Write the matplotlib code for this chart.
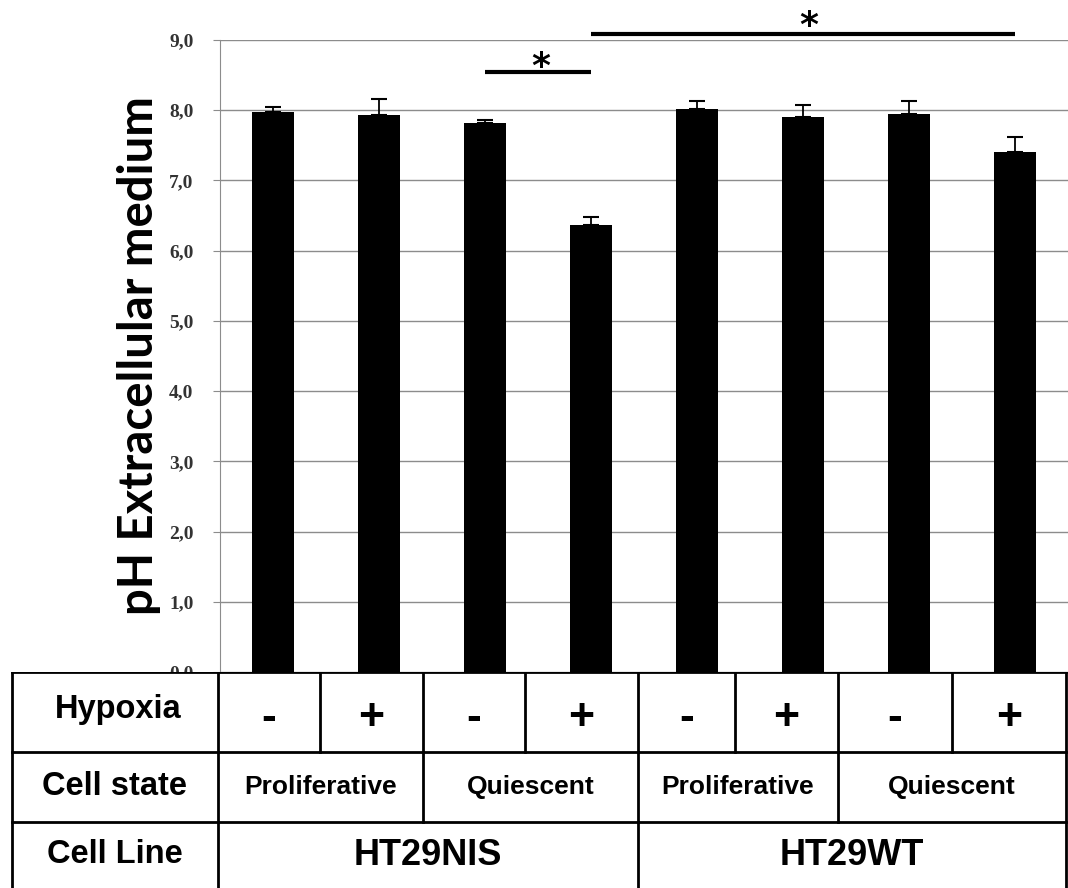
import matplotlib
matplotlib.use("Agg")
import matplotlib.pyplot as plt
import numpy as np

# data
ph_values = [7.98, 7.93, 7.82, 6.37, 8.02, 7.91, 7.95, 7.40]
ph_errors = [0.07, 0.23, 0.04, 0.11, 0.11, 0.17, 0.18, 0.22]
hypoxia = ['-', '+', '-', '+', '-', '+', '-', '+']
cell_state = ['Proliferative', 'Quiescent', 'Proliferative', 'Quiescent']
cell_line = ['HT29NIS', 'HT29WT']
yticks = np.arange(0, 9.5, 1.0)

# significance brackets: x start, x end, bar height, star x, star height
sig_start = [2, 3]
sig_end = [3, 7]
sig_height = [8.55, 9.09]
star_x = [2.53, 5.05]
star_y = [8.61, 9.20]

W, H = 1068, 888
fig = plt.figure(figsize=(W / 100, H / 100), dpi=100)

# main bar axes
ax = fig.add_axes([220 / W, (H - 672) / H, (W - 220) / W, (672 - 40) / H])
x = np.arange(len(ph_values))
ax.bar(x, ph_values, width=0.4, color='black', zorder=3)
ax.errorbar(x, ph_values, yerr=[np.zeros(len(ph_errors)), ph_errors],
            fmt='none', ecolor='black', elinewidth=1.3, capsize=6,
            capthick=1.5, zorder=4)

ax.set_xlim(-0.5, len(ph_values) - 0.5)
ax.set_ylim(0, 9)
ax.set_yticks(yticks)
ax.set_yticklabels([f'{v:.1f}'.replace('.', ',') for v in yticks],
                   family='Liberation Serif', fontweight='bold',
                   fontsize=14, color='#333333')
ax.set_xticks([])
ax.yaxis.grid(True, color='#8c8c8c', linewidth=1.0, zorder=0)
ax.tick_params(axis='y', length=5, color='#8c8c8c', pad=14)
for s in ['top', 'right', 'bottom']:
    ax.spines[s].set_visible(False)
ax.spines['left'].set_color('#8c8c8c')
ax.set_ylabel('pH Extracellular medium', family='Lato', fontweight='bold',
              fontsize=34, labelpad=6)

for x0, x1, h in zip(sig_start, sig_end, sig_height):
    ax.plot([x0, x1], [h, h], color='black', linewidth=3, clip_on=False,
            solid_capstyle='butt', zorder=5)
for sx, sy in zip(star_x, star_y):
    ax.text(sx, sy, '*', ha='center', va='center', fontsize=26,
            fontweight='bold', family='DejaVu Sans', clip_on=False)

# table below the chart (pixel layout)
tab = fig.add_axes([0, 0, 1, (H - 672) / H])
tab.set_xlim(0, W)
tab.set_ylim(H, 672)
tab.axis('off')
tab.add_patch(plt.Rectangle((0, 672), W, H - 672, color='white', zorder=0))

col_edges = [218, 320, 423, 525, 638, 735, 838, 952, 1066]
row_edges = [672, 752, 822, 895]
left_edge = 12
lw = 2.0

for y in row_edges:
    tab.plot([left_edge, col_edges[-1]], [y, y], color='black', lw=lw)
tab.plot([left_edge, left_edge], [672, 895], color='black', lw=lw)
tab.plot([col_edges[0], col_edges[0]], [672, 895], color='black', lw=lw)
tab.plot([col_edges[-1], col_edges[-1]], [672, 895], color='black', lw=lw)
for xe in col_edges[1:-1]:
    tab.plot([xe, xe], [row_edges[0], row_edges[1]], color='black', lw=lw)
for xe in col_edges[2:-1:2]:
    tab.plot([xe, xe], [row_edges[1], row_edges[2]], color='black', lw=lw)
tab.plot([col_edges[4], col_edges[4]], [row_edges[2], row_edges[3]],
         color='black', lw=lw)

font = dict(family='Liberation Sans', fontweight='bold', ha='center',
            va='center', color='black')
hx = (left_edge + col_edges[0]) / 2
tab.text(hx + 3, 709, 'Hypoxia', fontsize=23.5, **font)
tab.text(hx, 786, 'Cell state', fontsize=23.5, **font)
tab.text(hx, 854, 'Cell Line', fontsize=23.5, **font)

for i, s in enumerate(hypoxia):
    cx = (col_edges[i] + col_edges[i + 1]) / 2
    tab.text(cx, 718, s, fontsize=32, **font)
for i, s in enumerate(cell_state):
    cx = (col_edges[2 * i] + col_edges[2 * i + 2]) / 2
    tab.text(cx, 787, s, fontsize=19, **font)
for i, s in enumerate(cell_line):
    cx = (col_edges[4 * i] + col_edges[4 * i + 4]) / 2
    tab.text(cx, 855, s, fontsize=26, **font)

fig.savefig('out.png', dpi=100)
